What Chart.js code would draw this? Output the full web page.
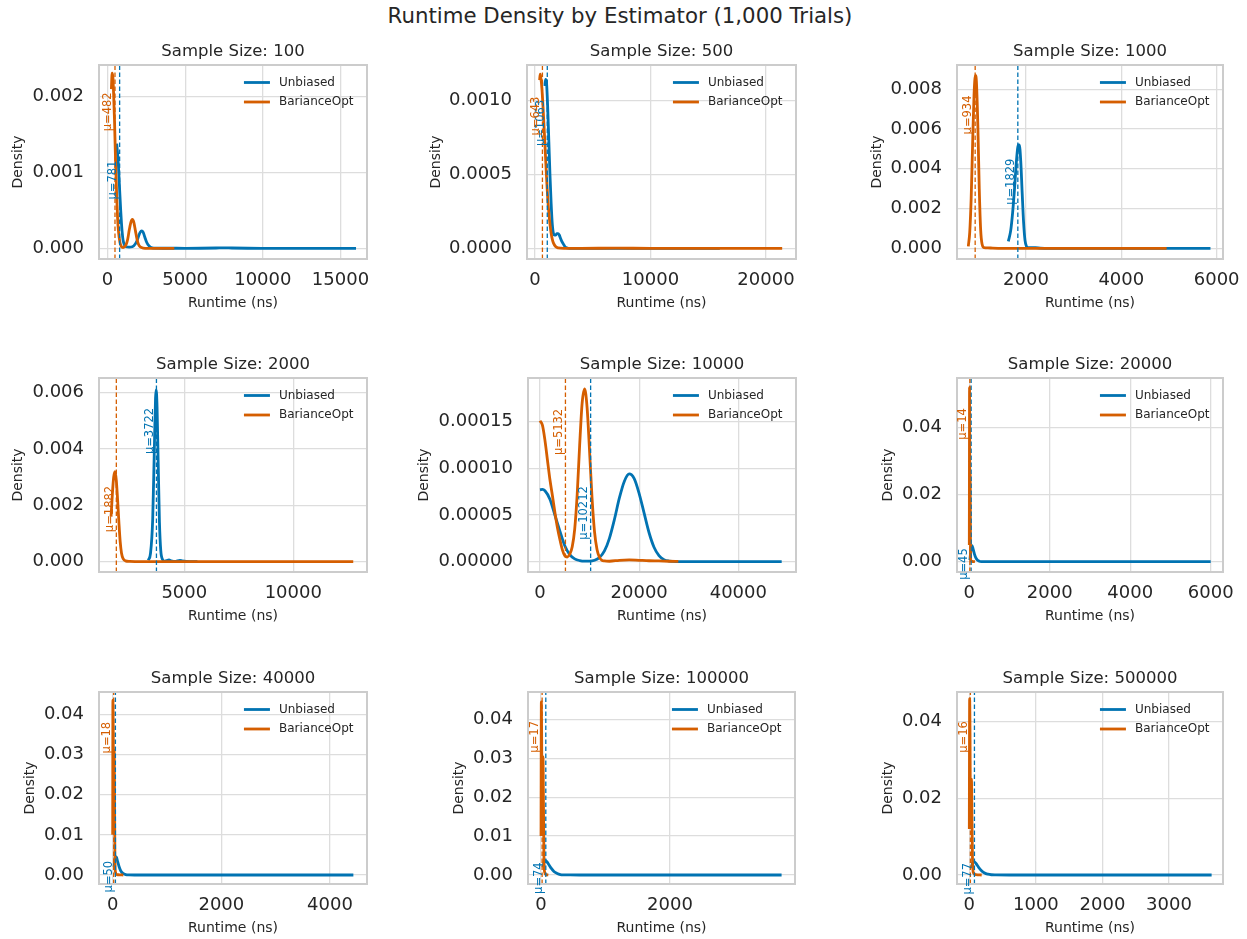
<!DOCTYPE html>
<html>
<head>
<meta charset="utf-8">
<script src="https://cdn.jsdelivr.net/npm/chart.js@4.4.1/dist/chart.umd.min.js"></script>
<style>
  html, body { margin: 0; padding: 0; background: #ffffff; }
  body { width: 1247px; height: 939px; position: relative; overflow: hidden; font-family: "DejaVu Sans", sans-serif; }
  #suptitle { position: absolute; left: 0; top: 4px; width: 1240px; text-align: center; font-size: 21.3px; line-height: 24px; color: #262626; }
  canvas { position: absolute; }
</style>
</head>
<body>
<div id="suptitle">Runtime Density by Estimator (1,000 Trials)</div>
<script>
// ---- data ----
const sampleSizes = [100, 500, 1000, 2000, 10000, 20000, 40000, 100000, 500000];
const seriesNames = ['Unbiased', 'BarianceOpt'];
const unbiasedMeans = [781, 1063, 1829, 3722, 10212, 45, 50, 74, 77];
const barianceMeans = [482, 643, 934, 1882, 5132, 14, 18, 17, 16];

// KDE of runtimes: grid points (ns) and estimated density, one row per sample size
const unbiasedX = [
  [590,650,700,750,800,850,900,950,1000,1100,1200,1400,1600,1800,1900,2000,2100,2200,2300,2400,2500,2600,2800,3000,4000,5000,6000,7000,7500,8000,9000,10000,12000,14000,16000],
  [850,920,1000,1100,1200,1300,1400,1500,1600,1700,1800,1900,2000,2100,2200,2300,2450,2600,2800,3000,5000,8000,12000,16000],
  [1630,1680,1720,1760,1800,1840,1860,1890,1920,1950,1980,2010,2050,2200,2300,2500,3000,4000,5000,5870],
  [3350,3450,3550,3620,3680,3710,3750,3800,3860,3920,4000,4100,4300,4400,4600,4800,4900,5100,5600],
  [0,500,1000,2000,3000,4000,5000,6000,7000,8000,9000,10000,11000,12000,13000,14000,15000,16000,17000,18000,19000,20000,21000,22000,23000,24000,25000,26000,28000,30000,35000,40000,45000,48750],
  [15,30,45,60,75,90,110,130,160,200,250,300,400,600,1000,2000,3000,4000,5000,6000],
  [25,40,55,70,90,120,150,190,240,300,400,1000,2000,3000,4000,4430],
  [30,50,70,90,120,160,200,250,300,350,450,600,1000,2000,3000,3730],
  [30,50,70,100,140,180,230,280,330,400,600,1000,2000,3000,3640]
];
const unbiasedY = [
  [0.00138,0.00125,0.00110,0.00090,0.00070,0.00050,0.00033,0.00020,0.00011,0.00004,0.00002,0.000015,0.00002,0.00006,0.00010,0.00016,0.00021,0.00023,0.00021,0.00015,0.00009,0.00005,0.00001,0.000003,0.000001,0,0.000001,0.000004,0.000006,0.000004,0.000001,0,0,0,0],
  [0.00110,0.001145,0.00112,0.00095,0.00072,0.00049,0.00030,0.00016,0.00010,0.00009,0.00009,0.00010,0.00010,0.00009,0.00007,0.00005,0.00003,0.00001,0.000002,0,0,0,0,0],
  [0.00035,0.0009,0.0018,0.0030,0.0044,0.0052,0.0052,0.0044,0.0028,0.0013,0.0004,0.0001,0.00003,0.00003,0.00001,0,0,0,0,0],
  [0.00005,0.0003,0.0015,0.0038,0.0058,0.0061,0.0055,0.0036,0.0014,0.0004,0.00008,0.00002,0.00006,0.00003,0.00001,0.00005,0.00003,0.00001,0],
  [0.0000770,0.0000775,0.0000760,0.0000670,0.0000500,0.0000330,0.0000170,0.0000075,0.0000030,0.0000012,0.0000006,0.0000006,0.0000015,0.0000045,0.0000115,0.0000250,0.0000450,0.0000680,0.0000860,0.0000940,0.0000890,0.0000730,0.0000520,0.0000310,0.0000155,0.0000065,0.0000022,0.0000007,0.0000001,0,0,0,0,0],
  [0.0005,0.0025,0.0042,0.0048,0.0046,0.0040,0.0031,0.0022,0.0012,0.0005,0.00015,0.00004,0.00001,0,0,0,0,0,0,0],
  [0.002,0.004,0.0046,0.0044,0.0034,0.002,0.001,0.0004,0.0001,0.00002,0,0,0,0,0,0],
  [0.002,0.0035,0.0037,0.0034,0.0027,0.0017,0.0009,0.0004,0.00012,0.00004,0.00001,0,0,0,0,0],
  [0.0018,0.0032,0.0035,0.0030,0.0020,0.0012,0.0005,0.0002,0.00006,0.00002,0,0,0,0,0]
];
const barianceX = [
  [250,300,350,400,450,500,550,600,650,700,800,900,1000,1100,1200,1300,1400,1500,1600,1700,1800,1900,2000,2100,2300,2600,3000,3500,4000,4300],
  [400,450,500,600,700,800,900,1000,1100,1200,1300,1400,1500,1600,1800,2000,2500,4000,7000,10000,15000,21400],
  [790,820,850,880,910,940,960,990,1020,1050,1080,1120,1200,1300,1500,2000,3000,4000,4950],
  [1640,1700,1760,1820,1880,1940,2000,2060,2120,2200,2300,2500,3000,4000,6000,8000,10000,12750],
  [0,500,1000,1500,2000,2500,3000,3500,4000,4500,5000,5500,6000,6500,7000,7500,8000,8500,9000,9500,10000,10500,11000,11500,12000,12500,13000,14000,16000,18000,20000,22000,24000,26000,27900],
  [0,3,6,9,12,15,18,21,24,28,32,40,60,100,140],
  [0,4,10,15,20,28,34,40,50,80,120,195],
  [0,5,10,15,22,30,38,45,55,80,113],
  [0,5,10,16,24,32,40,48,60,100,186]
];
const barianceY = [
  [0.00210,0.00231,0.00225,0.00200,0.00170,0.00130,0.00095,0.00065,0.00040,0.00024,0.00008,0.00002,0.00001,0.00002,0.00005,0.00012,0.00024,0.00034,0.00038,0.00034,0.00023,0.00012,0.00005,0.00002,0.000003,0,0,0,0,0],
  [0.00114,0.00118,0.00116,0.00108,0.00095,0.00080,0.00064,0.00048,0.00034,0.00024,0.00016,0.00010,0.00006,0.000035,0.00001,0.000003,0,0,0.000001,0,0,0],
  [0.0001,0.0008,0.0025,0.0052,0.0077,0.0087,0.0084,0.0062,0.0030,0.0009,0.0002,0.00003,0.00002,0.00001,0,0,0,0,0],
  [0.0016,0.0024,0.0030,0.0032,0.0029,0.0022,0.0014,0.0007,0.0003,0.0001,0.00003,0.00001,0,0,0,0,0,0],
  [0.000151,0.000146,0.000130,0.000109,0.000088,0.000071,0.000053,0.000037,0.000024,0.000013,0.0000065,0.000005,0.000008,0.000016,0.000035,0.000072,0.000125,0.000170,0.000185,0.000165,0.000118,0.000068,0.000032,0.000013,0.0000045,0.0000015,0.0000008,0.0000005,0.0000015,0.000002,0.0000015,0.000001,0.0000008,0.0000005,0.0000003],
  [0.005,0.030,0.052,0.045,0.020,0.015,0.022,0.026,0.020,0.008,0.002,0.0003,0.0001,0.00005,0],
  [0.010,0.0435,0.036,0.025,0.029,0.031,0.020,0.006,0.0008,0.0001,0.00005,0],
  [0.010,0.0445,0.035,0.022,0.028,0.0304,0.018,0.005,0.0008,0.0001,0],
  [0.012,0.046,0.038,0.020,0.022,0.025,0.014,0.004,0.0006,0.0001,0]
];

// axis ticks and limits per panel
const xTicks = [
  [0,5000,10000,15000], [0,10000,20000], [2000,4000,6000],
  [5000,10000], [0,20000,40000], [0,2000,4000,6000],
  [0,2000,4000], [0,2000], [0,1000,2000,3000]
];
const yTicks = [
  [0,0.001,0.002], [0,0.0005,0.001], [0,0.002,0.004,0.006,0.008],
  [0,0.002,0.004,0.006], [0,0.00005,0.0001,0.00015], [0,0.02,0.04],
  [0,0.01,0.02,0.03,0.04], [0,0.01,0.02,0.03,0.04], [0,0.02,0.04]
];
const yTickLabels = [
  ['0.000','0.001','0.002'], ['0.0000','0.0005','0.0010'], ['0.000','0.002','0.004','0.006','0.008'],
  ['0.000','0.002','0.004','0.006'], ['0.00000','0.00005','0.00010','0.00015'], ['0.00','0.02','0.04'],
  ['0.00','0.01','0.02','0.03','0.04'], ['0.00','0.01','0.02','0.03','0.04'], ['0.00','0.02','0.04']
];
const xLimits = [
  [-547,16706], [-693,22597], [553,6133],
  [1087,13381], [-2420,51634], [-306,6306],
  [-252,4681], [-202,3938], [-185,3811]
];
const yLimits = [
  [-0.000141,0.002418], [-0.0000725,0.001242], [-0.000538,0.009223],
  [-0.000366,0.006522], [-0.00001104,0.0001968], [-0.003075,0.05484],
  [-0.00224,0.04556], [-0.00231,0.04702], [-0.00235,0.04774]
];
// density level at which each mean annotation is centred
const unbiasedLabelY = [0.0009, 0.000849, 0.00335, 0.00464, 0.0000522, -0.0007, -0.0004, -0.0008, -0.001];
const barianceLabelY = [0.0018, 0.000896, 0.00671, 0.00187, 0.000139, 0.0411, 0.0342, 0.0355, 0.036];

// ---- layout (page pixels): plot box left, top, right, bottom, and y-title offset ----
const panelBoxes = [
  [99,65,367,259,81], [527,65,796,259,91], [957,65,1223,259,80],
  [99,378,367,572,81], [528,378,796,572,104], [957,378,1223,572,69],
  [99,692,367,884,69], [528,692,795,884,69], [957,692,1223,884,69]
];

// ---- styling ----
const FONT = '"DejaVu Sans", sans-serif';
const BLUE = '#0173b2';
const ORANGE = '#d55e00';
const TEXT = '#262626';
const GRID = '#dddddd';
const FRAME = '#cccccc';
const TICK_SIZE = 18, LABEL_SIZE = 14;
const TOP_SPACE = 30, BOTTOM_SPACE = 60, RIGHT_SPACE = 35;

const points = (xs, ys) => xs.map((x, i) => ({ x, y: ys[i] }));

function drawMeanLabel(ctx, xs, ys, mean, level, color) {
  const px = xs.getPixelForValue(mean);
  const py = ys.getPixelForValue(level);
  ctx.save();
  ctx.translate(px - 1, py);
  ctx.rotate(-Math.PI / 2);
  ctx.fillStyle = color;
  ctx.font = '11.5px ' + FONT;
  ctx.textAlign = 'center';
  ctx.textBaseline = 'bottom';
  ctx.fillText('\u03bc=' + mean, 0, 0);
  ctx.restore();
}

const decor = {
  id: 'decor',
  afterDraw(chart, args, opts) {
    const p = opts.panel;
    const { ctx, chartArea: a, scales } = chart;
    ctx.save();
    // axes frame
    ctx.strokeStyle = FRAME;
    ctx.lineWidth = 2;
    ctx.strokeRect(a.left, a.top, a.right - a.left, a.bottom - a.top);
    // panel title
    ctx.fillStyle = TEXT;
    ctx.font = '16.5px ' + FONT;
    ctx.textAlign = 'center';
    ctx.textBaseline = 'middle';
    ctx.fillText('Sample Size: ' + sampleSizes[p], (a.left + a.right) / 2, a.top - 13.5);
    // mean annotations
    drawMeanLabel(ctx, scales.x, scales.y, unbiasedMeans[p], unbiasedLabelY[p], BLUE);
    drawMeanLabel(ctx, scales.x, scales.y, barianceMeans[p], barianceLabelY[p], ORANGE);
    // legend
    ctx.font = '12px ' + FONT;
    const tw = Math.max(...seriesNames.map(n => ctx.measureText(n).width));
    const textLeft = a.right - 13.5 - tw;
    [BLUE, ORANGE].forEach((c, i) => {
      const yy = a.top + 17.5 + i * 19.5;
      ctx.strokeStyle = c;
      ctx.lineWidth = 2.8;
      ctx.beginPath();
      ctx.moveTo(textLeft - 35, yy);
      ctx.lineTo(textLeft - 9, yy);
      ctx.stroke();
      ctx.fillStyle = TEXT;
      ctx.textAlign = 'left';
      ctx.textBaseline = 'middle';
      ctx.fillText(seriesNames[i], textLeft, yy);
    });
    ctx.restore();
  }
};

sampleSizes.forEach((n, p) => {
  const [L, T, R, B, d] = panelBoxes[p];
  const leftSpace = d + 12;
  const canvas = document.createElement('canvas');
  canvas.width = Math.round(leftSpace + (R - L) + RIGHT_SPACE);
  canvas.height = Math.round(TOP_SPACE + (B - T) + BOTTOM_SPACE);
  canvas.style.left = (L - leftSpace) + 'px';
  canvas.style.top = (T - TOP_SPACE) + 'px';
  document.body.appendChild(canvas);

  const [y0, y1] = yLimits[p];
  const meanLine = (m, color) => ({
    data: [{ x: m, y: y0 }, { x: m, y: y1 }],
    borderColor: color, borderWidth: 1.3, borderDash: [4.5, 2.5],
    pointRadius: 0, tension: 0, order: color === BLUE ? 2 : 1
  });
  const half = LABEL_SIZE * 1.2 / 2;

  new Chart(canvas, {
    type: 'line',
    data: {
      datasets: [
        { label: seriesNames[0], data: points(unbiasedX[p], unbiasedY[p]), borderColor: BLUE, borderWidth: 2.8,
          pointRadius: 0, cubicInterpolationMode: 'monotone', borderJoinStyle: 'round', order: 4 },
        { label: seriesNames[1], data: points(barianceX[p], barianceY[p]), borderColor: ORANGE, borderWidth: 2.8,
          pointRadius: 0, cubicInterpolationMode: 'monotone', borderJoinStyle: 'round', order: 3 },
        meanLine(unbiasedMeans[p], BLUE),
        meanLine(barianceMeans[p], ORANGE)
      ]
    },
    options: {
      responsive: false,
      animation: false,
      devicePixelRatio: 1,
      events: [],
      layout: { padding: { left: 0, top: TOP_SPACE, right: RIGHT_SPACE, bottom: 0 } },
      plugins: { legend: { display: false }, tooltip: { enabled: false }, decor: { panel: p } },
      scales: {
        x: {
          type: 'linear', min: xLimits[p][0], max: xLimits[p][1],
          afterBuildTicks: s => { s.ticks = xTicks[p].map(v => ({ value: v })); },
          afterFit: s => { s.height = BOTTOM_SPACE; },
          grid: { color: GRID, lineWidth: 1.3, drawTicks: false },
          border: { display: false },
          ticks: { color: TEXT, font: { family: FONT, size: TICK_SIZE }, padding: 10.5, maxRotation: 0, autoSkip: false,
                   callback: v => String(v) },
          title: { display: true, text: 'Runtime (ns)', color: TEXT, font: { family: FONT, size: LABEL_SIZE },
                   padding: { top: 0, bottom: 16 - half } }
        },
        y: {
          type: 'linear', min: y0, max: y1,
          afterBuildTicks: s => { s.ticks = yTicks[p].map(v => ({ value: v })); },
          afterFit: s => { s.width = leftSpace; },
          grid: { color: GRID, lineWidth: 1.3, drawTicks: false },
          border: { display: false },
          ticks: { color: TEXT, font: { family: FONT, size: TICK_SIZE }, padding: 15,
                   callback: (v, i) => yTickLabels[p][i] },
          title: { display: true, text: 'Density', color: TEXT, font: { family: FONT, size: LABEL_SIZE },
                   padding: { top: 12 - half, bottom: 0 } }
        }
      }
    },
    plugins: [decor]
  });
});
</script>
</body>
</html>
